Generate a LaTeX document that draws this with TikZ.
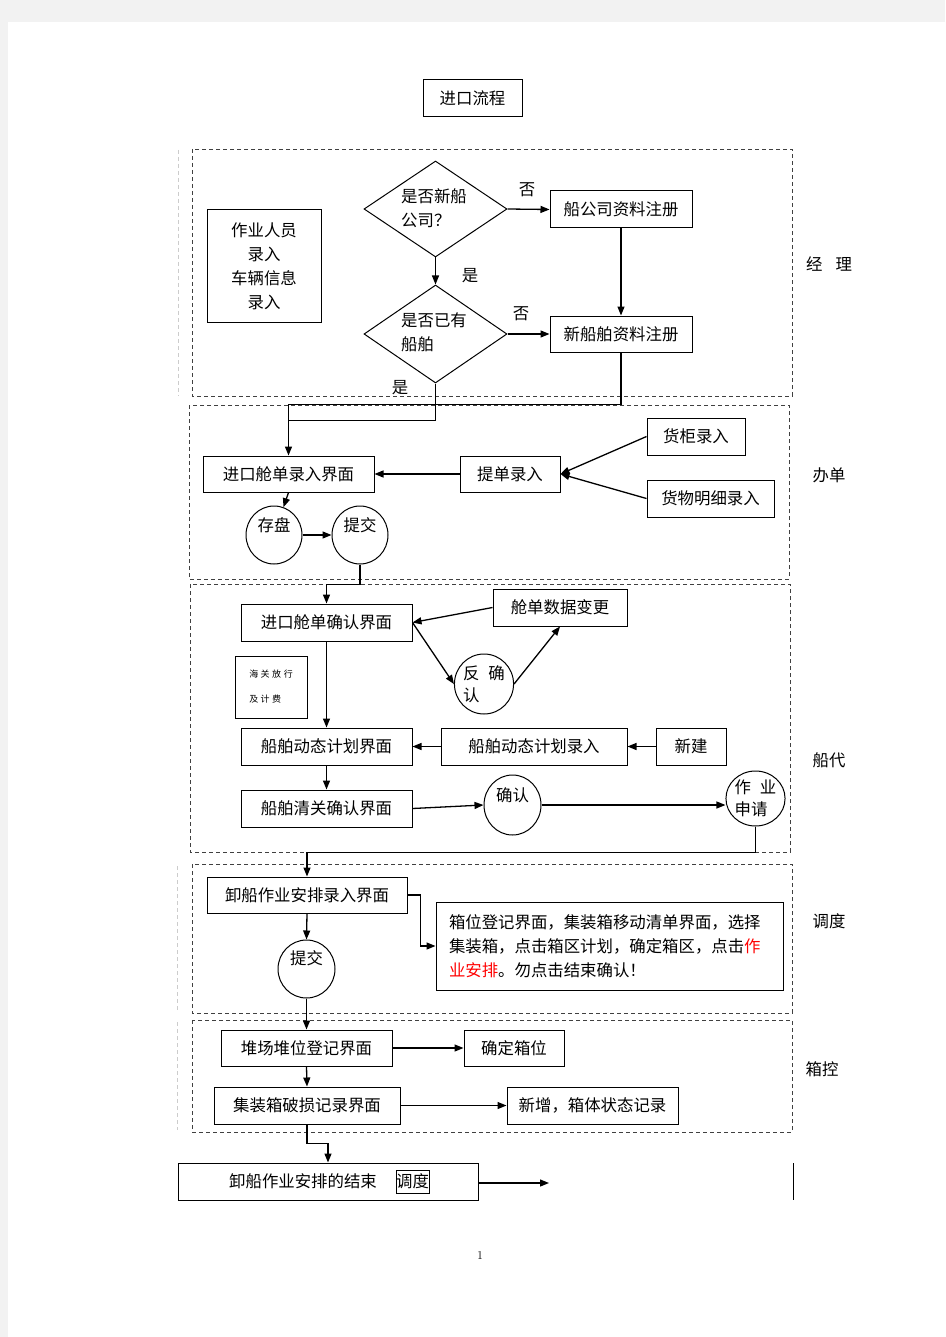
\documentclass[tikz,border=0pt]{standalone}
\usepackage{fontspec}
\newfontfamily\cjk{Noto Sans CJK SC}
\usetikzlibrary{arrows.meta,shapes.geometric}

\begin{document}
\begin{tikzpicture}[x=1pt,y=-1pt,font=\cjk\fontsize{16.4}{24}\selectfont]
		\tikzset{box/.style = {draw,fill=white,line width=1pt,inner sep=0pt}}
		\tikzset{oval/.style = {shape=ellipse,draw,fill=white,line width=1pt,inner sep=0pt}}
		\tikzset{flow/.style = {-{Triangle[length=9pt,width=7pt]},line width=1.3pt}}
		\tikzset{zone/.style = {draw=black!75,line width=0.8pt,dash pattern=on 4pt off 3pt}}
		% page
		\fill[black!5] (0,0) rectangle (945,1337);
		\fill[white] (8,22) rectangle (945,1337);
		\useasboundingbox (0,0) rectangle (945,1337);
		\node[box,minimum width=99,minimum height=37] (title) at (472.5,98.5) {进口流程};
		% zones
		\draw[zone] (192,149) rectangle (792,396);
		\draw[zone] (189,405) rectangle (789,579);
		\draw[zone] (190,584) rectangle (790,852);
		\draw[zone] (192,864) rectangle (792,1013);
		\draw[zone] (192,1020) rectangle (792,1132);
		\draw[black!20,line width=0.8pt,dash pattern=on 4pt off 3pt] (178,150) -- (178,396);
		\draw[black!20,line width=0.8pt,dash pattern=on 4pt off 3pt] (177,866) -- (177,1012);
		\draw[black!20,line width=0.8pt,dash pattern=on 4pt off 3pt] (177,1022) -- (177,1130);
		\node (jl) at (829,264) {经\hspace{13pt}理};
		\node (bd) at (829,475) {办单};
		\node (cd) at (829,760) {船代};
		\node (dd) at (829,921) {调度};
		\node (xk) at (822,1069) {箱控};
		% manager
		\node[box,minimum width=114,minimum height=112,align=center] (zyry) at (264,266) {作业人员\\录入\\车辆信息\\录入};
		\node[shape=diamond,draw,line width=1pt,minimum width=143,minimum height=96,inner sep=0pt] (d1) at (435.5,209) {};
		\node[align=left] (d1t) at (434,208) {是否新船\\公司？};
		\node[shape=diamond,draw,line width=1pt,minimum width=143,minimum height=98,inner sep=0pt] (d2) at (435.5,334) {};
		\node[align=left] (d2t) at (434,332) {是否已有\\船舶\hspace{32pt}};
		\node[box,minimum width=142,minimum height=37] (gs) at (621,209.5) {船公司资料注册};
		\node[box,minimum width=142,minimum height=36] (xcb) at (621,334) {新船舶资料注册};
		\draw[flow] (d1.east) -- (gs.west);
		\draw[flow] (d2.east) -- (xcb.west);
		\draw[flow] (d1.south) -- (d2.north);
		\draw[flow] (gs.south) -- (xcb.north);
		\node (no1) at (527,190) {否};
		\node (yes1) at (470,276) {是};
		\node (no2) at (521,314) {否};
		\node (yes2) at (400,388) {是};
		% bills
		\node[box,minimum width=171,minimum height=36] (lr) at (288.5,474) {进口舱单录入界面};
		\node[box,minimum width=100,minimum height=36] (td) at (510,474) {提单录入};
		\node[box,minimum width=98,minimum height=37] (hg) at (696,436.5) {货柜录入};
		\node[box,minimum width=127,minimum height=37] (hw) at (710.5,498.5) {货物明细录入};
		\node[oval,minimum width=56,minimum height=58,text height=12pt,text depth=19pt] (cp) at (274,535) {存盘};
		\node[oval,minimum width=56,minimum height=58,text height=12pt,text depth=19pt] (tj) at (360,535) {提交};
		\draw[flow] (xcb.south) -- ++(0,52) -| (lr.north);
		\draw[line width=1.3pt] (d2.south) -- ++(0,37) -- ++(-147,0);
		\draw[flow] (td.west) -- (lr.east);
		\draw[flow] (hg.west) -- (td.east);
		\draw[flow] (hw.west) -- (td.east);
		\draw[flow] (lr.south) -- (cp);
		\draw[flow] (cp.east) -- (tj.west);
		% ship agent
		\node[box,minimum width=171,minimum height=37] (qr) at (326.5,622.5) {进口舱单确认界面};
		\node[box,minimum width=134,minimum height=37] (bg) at (560,607.5) {舱单数据变更};
		\node[oval,minimum width=56,minimum height=60,align=left,font=\cjk\fontsize{16.4}{22}\selectfont] (fq) at (484,684) {反\hspace{9pt}确\\认};
		\node[box,minimum width=72,minimum height=62,align=left,font=\cjk\fontsize{9}{25}\selectfont] (hgfx) at (271,687) {海\hspace{2.5pt}关\hspace{2.5pt}放\hspace{2.5pt}行\\及\hspace{2.5pt}计\hspace{2.5pt}费};
		\node[box,minimum width=171,minimum height=37] (dtjm) at (326.5,746.5) {船舶动态计划界面};
		\node[box,minimum width=186,minimum height=37] (dtlr) at (534,746.5) {船舶动态计划录入};
		\node[box,minimum width=70,minimum height=37] (xj) at (691,746.5) {新建};
		\node[box,minimum width=171,minimum height=37] (qg) at (326.5,808.5) {船舶清关确认界面};
		\node[oval,minimum width=57,minimum height=60,text height=12pt,text depth=19pt] (qrc) at (512.5,805) {确认};
		\node[oval,minimum width=57,minimum height=55,align=left,font=\cjk\fontsize{16.4}{22}\selectfont] (sq) at (755.5,798.5) {作\hspace{9pt}业\\申请};
		\draw[flow] (tj.south) -- ++(0,20) -| (qr.north);
		\draw[flow] (bg.west) -- (qr.east);
		\draw[flow] (qr.east) -- (fq.west);
		\draw[flow] (fq.east) -- (bg.south);
		\draw[flow] (qr.south) -- (dtjm.north);
		\draw[flow] (xj.west) -- (dtlr.east);
		\draw[flow] (dtlr.west) -- (dtjm.east);
		\draw[flow] (dtjm.south) -- (qg.north);
		\draw[flow] (qg.east) -- (qrc.west);
		\draw[flow] (qrc.east) -- (sq.west |- qrc.east);
		% dispatch
		\node[box,minimum width=200,minimum height=36] (xc) at (307,895) {卸船作业安排录入界面};
		\node[box,minimum width=347,minimum height=88,text width=321,align=left,inner xsep=13pt] (tip) at (609.5,946) {箱位登记界面，集装箱移动清单界面，选择\\集装箱，点击箱区计划，确定箱区，点击\textcolor{red}{作}\\\textcolor{red}{业安排}。勿点击结束确认！};
		\node[oval,minimum width=57,minimum height=58,text height=12pt,text depth=21pt] (tj2) at (306.5,969) {提交};
		\draw[flow] (sq.south) -- ++(0,26) -| (xc.north);
		\draw[flow] (xc.east) -- ++(13,0) |- (tip.west);
		\draw[flow] (xc.south) -- (tj2.north);
		% yard
		\node[box,minimum width=171,minimum height=36] (dc) at (306.5,1048) {堆场堆位登记界面};
		\node[box,minimum width=100,minimum height=36] (qd) at (514,1048) {确定箱位};
		\node[box,minimum width=186,minimum height=37] (ps) at (307,1105.5) {集装箱破损记录界面};
		\node[box,minimum width=171,minimum height=37] (xz) at (592.5,1105.5) {新增，箱体状态记录};
		\draw[flow] (tj2.south) -- (dc.north);
		\draw[flow] (dc.east) -- (qd.west);
		\draw[flow] (dc.south) -- (ps.north);
		\draw[flow] (ps.east) -- (xz.west);
		% end
		\node[box,minimum width=300,minimum height=37] (end) at (328,1181.5) {};
		\node (endt) at (303,1181) {卸船作业安排的结束};
		\node[box,minimum width=33,minimum height=23] (endd) at (412.5,1181.5) {调度};
		\coordinate (out) at (549,1183);
		\draw[flow] (ps.south) -- ++(0,19) -| (end.north);
		\draw[flow] (end.east |- out) -- (out);
		\draw[line width=1pt] (793,1163) -- (793,1200);
		\node[font=\normalfont\fontsize{12}{14}\selectfont] (pg) at (480,1255) {1};
	\end{tikzpicture}
\end{document}
